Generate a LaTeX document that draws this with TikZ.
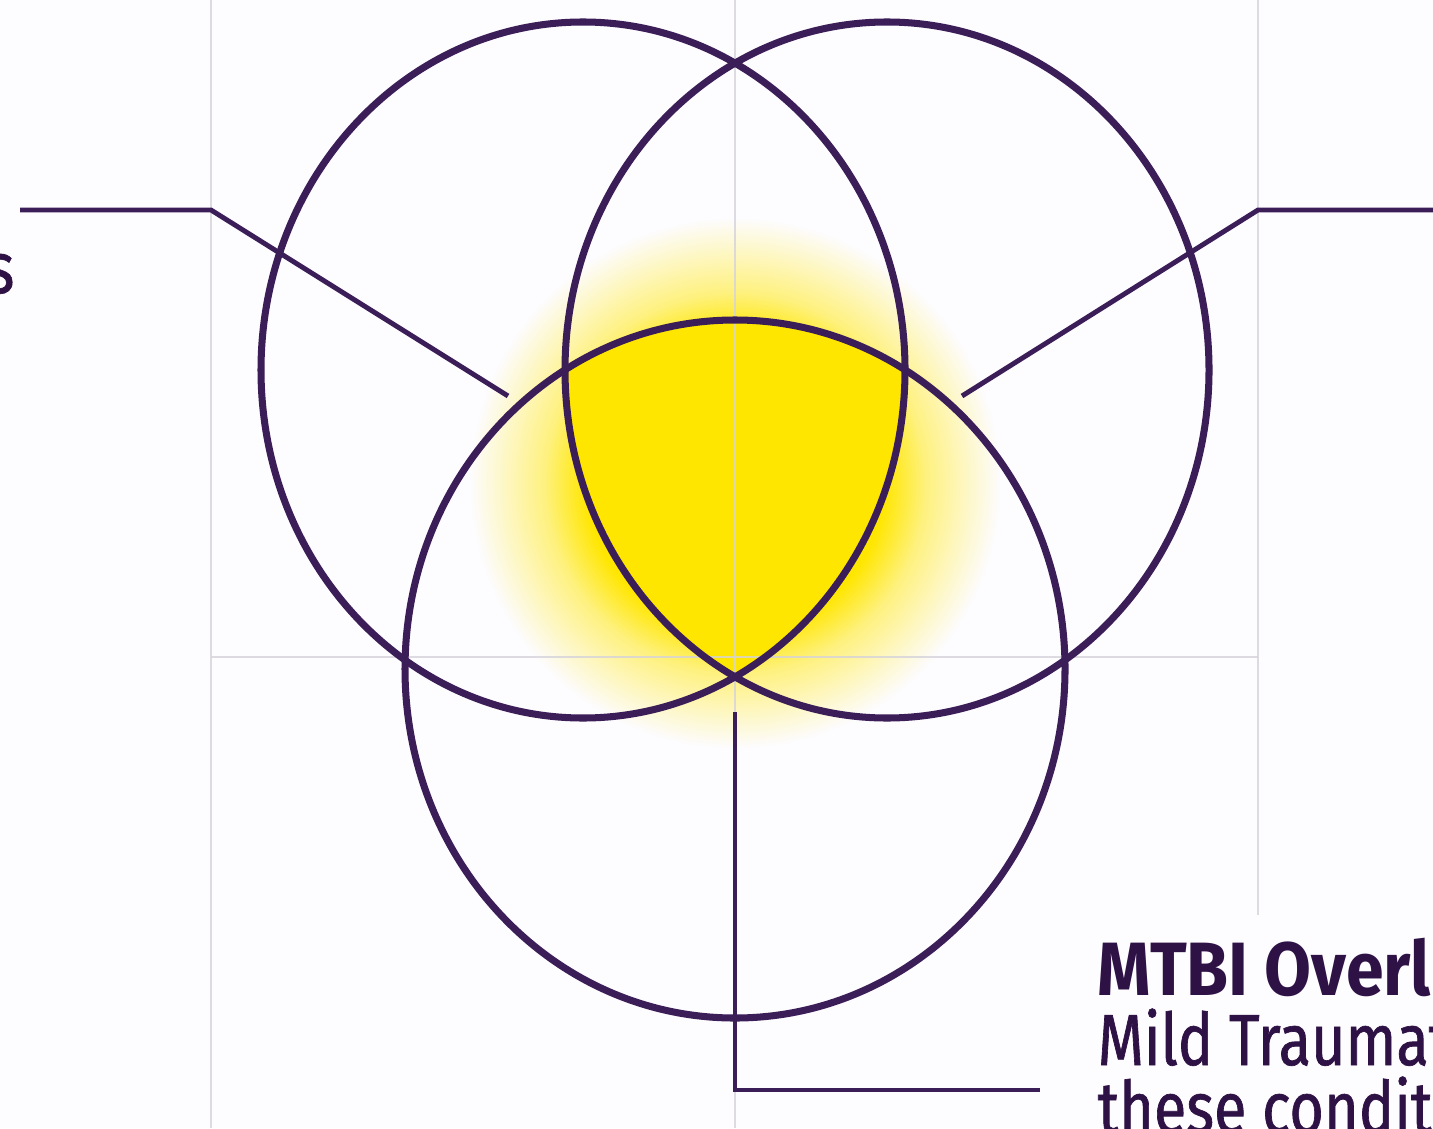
\documentclass[tikz,border=0pt]{standalone}
\usepackage{fontspec}
\setmainfont{Fira Sans}
\newfontfamily\labelfont[FakeStretch=0.82,FakeBold=0.9]{Fira Sans}
\newfontfamily\headfont[FakeStretch=0.9]{Fira Sans}
\definecolor{ringcolor}{HTML}{3B1D58}
\definecolor{leadcolor}{HTML}{3B1D58}
\definecolor{textcolor}{HTML}{2E1246}
\definecolor{gridcolor}{HTML}{D5D2DB}
\definecolor{coreyellow}{HTML}{FFE600}
\definecolor{paper}{HTML}{FDFCFE}
\pgfdeclareradialshading{coreglow}{\pgfpoint{0bp}{0bp}}{color(0bp)=(coreyellow); color(14bp)=(coreyellow); color(18bp)=(coreyellow!50!paper); color(25bp)=(paper); color(50bp)=(paper)}
\tikzset{
  ring/.style={draw=ringcolor, line width=2pt},
  lead/.style={draw=leadcolor, line width=1.4pt, line join=miter},
  guide/.style={draw=gridcolor, line width=0.6pt, opacity=0.8},
  heading/.style={font=\headfont\bfseries\fontsize{21.5}{24}\selectfont, text=textcolor, inner sep=0pt, anchor=base west},
  bodytext/.style={font=\labelfont\fontsize{20.6}{24}\selectfont, text=textcolor, inner sep=0pt, anchor=base west}
}

\begin{document}
\begin{tikzpicture}[x=1cm,y=1cm]
  \useasboundingbox[fill=paper] (0,0) rectangle (14.33,11.28);

  % glow and centre overlap
  \shade[shading=coreglow] (7.35,6.45) circle (2.65);
  \begin{scope}
    \clip (5.83,7.58) ellipse [x radius=3.22, y radius=3.48];
    \clip (8.87,7.58) ellipse [x radius=3.22, y radius=3.48];
    \fill[coreyellow] (7.35,4.59) ellipse [x radius=3.30, y radius=3.49];
  \end{scope}

  % guide lines
  \draw[guide] (2.11,0) -- (2.11,11.28);
  \draw[guide] (7.35,0) -- (7.35,11.28);
  \draw[guide] (12.58,2.13) -- (12.58,11.28);
  \draw[guide] (2.11,4.71) -- (12.58,4.71);

  % the three sets
  \draw[ring] (5.83,7.58) ellipse [x radius=3.22, y radius=3.48];
  \draw[ring] (8.87,7.58) ellipse [x radius=3.22, y radius=3.48];
  \draw[ring] (7.35,4.59) ellipse [x radius=3.30, y radius=3.49];

  % leaders
  \coordinate (leftend) at (0.20,9.18);
  \coordinate (leftbend) at (2.11,9.18);
  \coordinate (lefttip) at (5.08,7.32);
  \coordinate (rightend) at (14.40,9.18);
  \coordinate (rightbend) at (12.58,9.18);
  \coordinate (righttip) at (9.62,7.32);
  \coordinate (coretip) at (7.35,4.16);
  \coordinate (corebend) at (7.35,0.38);
  \coordinate (coreend) at (10.40,0.38);
  \draw[lead] (leftend) -- (leftbend) -- (lefttip);
  \draw[lead] (rightend) -- (rightbend) -- (righttip);
  \draw[lead] (coretip) -- (corebend) -- (coreend);

  % labels
  \node[bodytext, anchor=base east] (lefttext) at (0.15,8.35) {s};
  \node[heading] (overlaptitle) at (10.97,1.33) {MTBI Overl};
  \node[bodytext] (overlapline1) at (10.97,0.63) {Mild Traumat};
  \node[bodytext] (overlapline2) at (10.97,-0.05) {these conditi};
\end{tikzpicture}
\end{document}
